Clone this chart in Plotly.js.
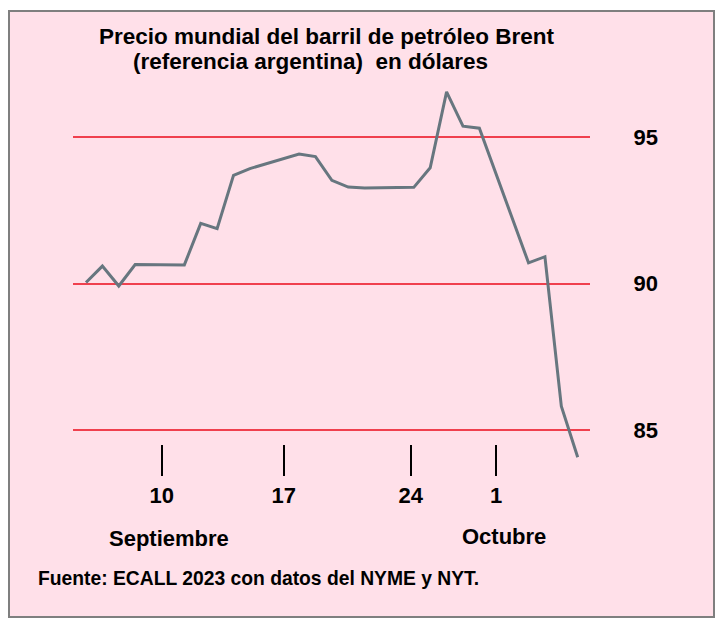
<!DOCTYPE html>
<html>
<head>
<meta charset="utf-8">
<script src="https://cdn.plot.ly/plotly-3.0.1.min.js"></script>
<style>html,body{margin:0;padding:0;background:#fff;}#chart{width:721px;height:630px;}</style>
</head>
<body>
<div id="chart"></div>
<script>
// ---- Data (day numbers: September day; October n = 30 + n) ----
const dates = ["5 sep","6 sep","7 sep","8 sep","11 sep","12 sep","13 sep","14 sep","15 sep",
  "18 sep","19 sep","20 sep","21 sep","22 sep","25 sep","26 sep","27 sep","28 sep","29 sep",
  "2 oct","3 oct","4 oct","5 oct"];
const dayNums = [5,6,7,8,11,12,13,14,15,18,19,20,21,22,25,26,27,28,29,32,33,34,35];
const brent = [90.04,90.60,89.92,90.65,90.64,92.06,91.88,93.70,93.93,94.43,94.34,93.53,93.30,93.27,
  93.29,93.96,96.55,95.38,95.31,90.71,90.92,85.81,84.07];
const xTickPos = [9.62,17.06,24.81,30.02];
const xTickText = ["10","17","24","1"];
const yTickVals = [85,90,95];
const yTickText = ["85","90","95"];
const titleLines = ["Precio mundial del barril de petróleo Brent","(referencia argentina)  en dólares"];
const monthLabels = ["Septiembre","Octubre"];
const sourceText = "Fuente: ECALL 2023 con datos del NYME y NYT.";

// ---- Layout geometry (pixels) ----
const W = 721, H = 630;
const L = 73, R = 590, T = 20, B = 476;
const px = x => (x - L) / (R - L);
const py = y => (B - y) / (B - T);
const FONT = '"Liberation Sans", Arial, sans-serif';
const pink = 'rgb(255,224,233)';

const trace = {
  x: dayNums, y: brent, text: dates, type: 'scatter', mode: 'lines',
  line: {color: '#67767f', width: 3}, hoverinfo: 'text+y'
};

function ann(text, xp, yp, size, weight) {
  return {text: text, xref: 'paper', yref: 'paper', x: px(xp), y: py(yp),
    xanchor: 'left', yanchor: 'middle', showarrow: false,
    font: {family: FONT, size: size, color: '#000', weight: weight}};
}

const layout = {
  width: W, height: H,
  margin: {l: L, r: W - R, t: T, b: H - B, pad: 0},
  paper_bgcolor: '#fff', plot_bgcolor: 'rgba(0,0,0,0)',
  showlegend: false,
  xaxis: {range: [4.207, 35.75], showgrid: false, zeroline: false, showline: false,
    tickmode: 'array', tickvals: xTickPos, ticktext: xTickText,
    ticks: 'inside', ticklen: 31, tickwidth: 2, tickcolor: '#000', ticklabelstandoff: 4,
    tickfont: {family: FONT, size: 22, color: '#000', weight: 'bold'}},
  yaxis: {range: [83.428, 99.008], side: 'right', showgrid: true, gridcolor: '#f0404e', gridwidth: 2,
    zeroline: false, showline: false, tickmode: 'array', tickvals: yTickVals, ticktext: yTickText,
    ticks: 'outside', ticklen: 38, tickcolor: 'rgba(0,0,0,0)',
    tickfont: {family: FONT, size: 22, color: '#000', weight: 'bold'}},
  shapes: [{type: 'rect', xref: 'paper', yref: 'paper', x0: px(9), x1: px(714), y0: py(617), y1: py(11),
    fillcolor: pink, line: {color: '#7f7f7f', width: 2}, layer: 'below'}],
  annotations: [
    ann(titleLines[0], 97, 36.5, 22.5, 'bold'),
    ann(titleLines[1], 130.5, 61, 22.5, 'bold'),
    ann(monthLabels[0], 107, 538, 22, 'bold'),
    ann(monthLabels[1], 460, 536, 22, 'bold'),
    ann(sourceText, 36, 578, 19.3, 'bold')
  ]
};

Plotly.newPlot('chart', [trace], layout, {displayModeBar: false, staticPlot: true});
</script>
</body>
</html>
